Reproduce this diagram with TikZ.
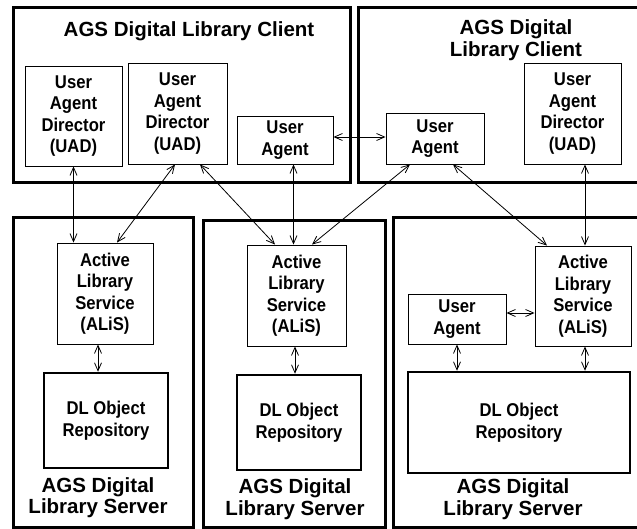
\documentclass[tikz,border=0pt]{standalone}
\usepackage{fontspec}
\setmainfont{Liberation Sans}
\newfontfamily\narrowsans[FakeStretch=0.9]{Liberation Sans}
\usetikzlibrary{arrows.meta}
\newcommand\unitfont{\narrowsans\bfseries\fontsize{18.5}{21.5}\selectfont}
\newcommand\headfont{\bfseries\fontsize{20.5}{21.5}\selectfont}
\begin{document}
\begin{tikzpicture}[x=1pt,y=-1pt,
  frame/.style={draw, line width=3pt, inner sep=0pt},
  repo/.style={draw, line width=2.5pt, inner sep=0pt, align=center, font=\unitfont},
  unit/.style={draw, line width=0.9pt, inner sep=0pt, align=center, font=\unitfont},
  heading/.style={inner sep=0pt, align=center, font=\headfont},
  link/.style={line width=0.8pt,
    {Straight Barb[length=8pt,width=7pt]}-{Straight Barb[length=8pt,width=7pt]}}]
\useasboundingbox (0,0) rectangle (637,529);
\clip (0,0) rectangle (637,529);

% client and server frames
\node[frame, minimum width=337pt, minimum height=175pt] (client1) at (181.5,95.5) {};
\node[frame, minimum width=302pt, minimum height=175pt] (client2) at (509,95.5) {};
\node[frame, minimum width=180pt, minimum height=309pt] (server1) at (103,372.5) {};
\node[frame, minimum width=182pt, minimum height=306pt] (server2) at (294,374) {};
\node[frame, minimum width=267pt, minimum height=309pt] (server3) at (526.5,372.5) {};

% frame headings
\node[heading] (client1-title) at (189,31) {AGS Digital Library Client};
\node[heading] (client2-title) at (516,40) {AGS Digital\\Library Client};
\node[heading] (server1-title) at (98,497.5) {AGS Digital\\Library Server};
\node[heading] (server2-title) at (295,499) {AGS Digital\\Library Server};
\node[heading] (server3-title) at (513,499) {AGS Digital\\Library Server};

% client components
\node[unit, minimum width=97pt, minimum height=100pt] (uad1) at (73.5,116) {User\\Agent\\Director\\(UAD)};
\node[unit, minimum width=99pt, minimum height=101pt] (uad2) at (177.5,113.5) {User\\Agent\\Director\\(UAD)};
\node[unit, minimum width=96pt, minimum height=48pt] (ua1) at (285,140) {User\\Agent};
\node[unit, minimum width=98pt, minimum height=51pt] (ua2) at (435,138.5) {User\\Agent};
\node[unit, minimum width=97pt, minimum height=101pt] (uad3) at (572.5,113.5) {User\\Agent\\Director\\(UAD)};

% server components
\node[unit, minimum width=96pt, minimum height=101pt] (alis1) at (105,293.5) {Active\\Library\\Service\\(ALiS)};
\node[unit, minimum width=99pt, minimum height=101pt] (alis2) at (296.5,295.5) {Active\\Library\\Service\\(ALiS)};
\node[unit, minimum width=96pt, minimum height=100pt] (alis3) at (583,296) {Active\\Library\\Service\\(ALiS)};
\node[unit, minimum width=98pt, minimum height=50pt] (ua3) at (457,319) {User\\Agent};
\node[repo, minimum width=124pt, minimum height=95pt] (dl1) at (106,420.5) {DL Object\\Repository};
\node[repo, minimum width=124pt, minimum height=95pt] (dl2) at (299,422.5) {DL Object\\Repository};
\node[repo, minimum width=222pt, minimum height=101pt] (dl3) at (519,422.5) {DL Object\\Repository};

% links between clients and servers
\draw[link] (uad1.south) -- (uad1.south |- alis1.north);
\draw[link] ([xshift=-2.5pt]uad2.south) -- ([xshift=12pt]alis1.north);
\draw[link] ([xshift=22.5pt]uad2.south) -- ([xshift=-21.5pt]alis2.north);
\draw[link] ([xshift=-3pt]alis2.north) -- ([xshift=-3pt]alis2.north |- ua1.south);
\draw[link] ([yshift=3pt]ua1.east) -- ([yshift=3pt]ua1.east -| ua2.west);
\draw[link] ([xshift=-25pt]ua2.south) -- ([xshift=15.5pt]alis2.north);
\draw[link] ([xshift=18pt]ua2.south) -- ([xshift=-36pt]alis3.north);
\draw[link] ([xshift=2pt]alis3.north) -- ([xshift=2pt]alis3.north |- uad3.south);

% links inside the servers
\draw[link] ([yshift=6pt]ua3.east) -- ([yshift=6pt]ua3.east -| alis3.west);
\draw[link] (ua3.south) -- (ua3.south |- dl3.north);
\draw[link] ([xshift=2pt]alis3.south) -- ([xshift=2pt]alis3.south |- dl3.north);
\draw[link] ([xshift=-7pt]alis1.south) -- ([xshift=-7pt]alis1.south |- dl1.north);
\draw[link] ([xshift=-1.5pt]alis2.south) -- ([xshift=-1.5pt]alis2.south |- dl2.north);
\end{tikzpicture}
\end{document}
